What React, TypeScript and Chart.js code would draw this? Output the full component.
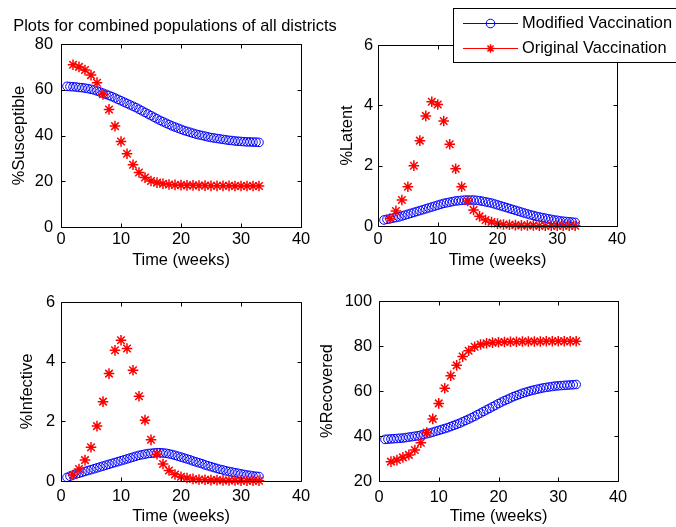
import { useEffect, useRef } from "react";
import { Chart, registerables } from "chart.js";

Chart.register(...registerables);

// ---------------------------------------------------------------------------
// Data (percent of the combined population, by week)
// ---------------------------------------------------------------------------

const modifiedWeeks = [
  1, 1.5, 2, 2.5, 3, 3.5, 4, 4.5, 5, 5.5, 6, 6.5, 7, 7.5, 8, 8.5, 9, 9.5, 10, 10.5,
  11, 11.5, 12, 12.5, 13, 13.5, 14, 14.5, 15, 15.5, 16, 16.5, 17, 17.5, 18, 18.5, 19,
  19.5, 20, 20.5, 21, 21.5, 22, 22.5, 23, 23.5, 24, 24.5, 25, 25.5, 26, 26.5, 27, 27.5,
  28, 28.5, 29, 29.5, 30, 30.5, 31, 31.5, 32, 32.5, 33,
];

const originalWeeks = [
  2, 3, 4, 5, 6, 7, 8, 9, 10, 11, 12, 13, 14, 15, 16, 17, 18, 19, 20, 21, 22, 23, 24,
  25, 26, 27, 28, 29, 30, 31, 32, 33,
];

const modifiedSusceptible = [
  61.5, 61.4, 61.3, 61.2, 61.0, 60.9, 60.7, 60.5, 60.2, 59.9, 59.5, 59.0, 58.5, 58.0,
  57.5, 57.0, 56.4, 55.8, 55.2, 54.6, 54.0, 53.4, 52.8, 52.2, 51.5, 50.8, 50.1, 49.4,
  48.7, 48.0, 47.3, 46.6, 46.0, 45.4, 44.8, 44.2, 43.7, 43.2, 42.7, 42.2, 41.8, 41.4,
  41.0, 40.6, 40.3, 40.0, 39.7, 39.4, 39.1, 38.9, 38.7, 38.5, 38.3, 38.1, 37.9, 37.8,
  37.6, 37.5, 37.4, 37.3, 37.2, 37.2, 37.1, 37.1, 37.0,
];
const originalSusceptible = [
  70.9, 70.0, 68.6, 66.4, 63.1, 58.0, 51.4, 44.1, 37.4, 32.0, 27.2, 23.8, 21.6, 20.1,
  19.4, 18.9, 18.6, 18.4, 18.3, 18.2, 18.2, 18.1, 18.1, 18.0, 18.0, 18.0, 18.0, 17.9,
  17.9, 17.9, 17.9, 17.9,
];

const modifiedLatent = [
  0.2, 0.22, 0.24, 0.26, 0.28, 0.3, 0.33, 0.36, 0.39, 0.42, 0.45, 0.48, 0.51, 0.54,
  0.57, 0.6, 0.63, 0.66, 0.69, 0.72, 0.75, 0.77, 0.79, 0.81, 0.83, 0.84, 0.85, 0.86,
  0.86, 0.86, 0.86, 0.85, 0.84, 0.82, 0.8, 0.78, 0.76, 0.73, 0.7, 0.67, 0.64, 0.61,
  0.58, 0.55, 0.52, 0.49, 0.46, 0.43, 0.4, 0.37, 0.35, 0.32, 0.3, 0.28, 0.26, 0.24,
  0.22, 0.2, 0.19, 0.17, 0.16, 0.15, 0.14, 0.13, 0.12,
];
const originalLatent = [
  0.25, 0.5, 0.86, 1.3, 2.0, 2.83, 3.65, 4.12, 4.03, 3.48, 2.71, 1.9, 1.3, 0.83, 0.53,
  0.32, 0.2, 0.13, 0.08, 0.05, 0.04, 0.03, 0.02, 0.02, 0.02, 0.01, 0.01, 0.01, 0.01,
  0.01, 0.01, 0.01,
];

const modifiedInfective = [
  0.12, 0.16, 0.2, 0.23, 0.26, 0.29, 0.32, 0.35, 0.38, 0.41, 0.44, 0.47, 0.5, 0.53,
  0.56, 0.59, 0.62, 0.65, 0.68, 0.71, 0.74, 0.77, 0.8, 0.83, 0.86, 0.88, 0.9, 0.92,
  0.93, 0.94, 0.95, 0.95, 0.94, 0.93, 0.91, 0.89, 0.86, 0.83, 0.8, 0.77, 0.74, 0.71,
  0.67, 0.64, 0.61, 0.58, 0.54, 0.51, 0.48, 0.45, 0.42, 0.39, 0.37, 0.34, 0.32, 0.3,
  0.28, 0.26, 0.24, 0.22, 0.2, 0.19, 0.17, 0.16, 0.15,
];
const originalInfective = [
  0.2, 0.4, 0.7, 1.13, 1.84, 2.66, 3.6, 4.38, 4.72, 4.44, 3.71, 2.84, 2.04, 1.38, 0.9,
  0.57, 0.35, 0.22, 0.14, 0.1, 0.07, 0.05, 0.04, 0.03, 0.03, 0.02, 0.02, 0.02, 0.01,
  0.01, 0.01, 0.01,
];

const modifiedRecovered = [
  38.5, 38.6, 38.7, 38.8, 38.9, 39.0, 39.1, 39.3, 39.5, 39.7, 39.9, 40.1, 40.4, 40.7,
  41.0, 41.3, 41.7, 42.1, 42.5, 42.9, 43.3, 43.7, 44.2, 44.7, 45.2, 45.7, 46.3, 46.9,
  47.5, 48.1, 48.8, 49.5, 50.2, 50.9, 51.6, 52.3, 53.0, 53.7, 54.4, 55.1, 55.7, 56.3,
  56.9, 57.5, 58.0, 58.5, 59.0, 59.4, 59.8, 60.2, 60.5, 60.8, 61.1, 61.4, 61.6, 61.8,
  62.0, 62.2, 62.3, 62.4, 62.5, 62.6, 62.7, 62.8, 62.9,
];
const originalRecovered = [
  28.6, 29.3, 30.5, 31.6, 33.8, 37.0, 41.5, 47.6, 54.5, 61.2, 66.8, 71.4, 75.3, 77.9,
  79.7, 80.7, 81.2, 81.5, 81.7, 81.8, 81.9, 81.9, 82.0, 82.0, 82.0, 82.0, 82.1, 82.1,
  82.1, 82.1, 82.1, 82.1,
];

const timeTicks = [0, 10, 20, 30, 40];
const susceptibleTicks = [0, 20, 40, 60, 80];
const latentTicks = [0, 2, 4, 6];
const infectiveTicks = [0, 2, 4, 6];
const recoveredTicks = [20, 40, 60, 80, 100];

const seriesNames = ["Modified Vaccination", "Original Vaccination"];
const figureTitle = "Plots for combined populations of all districts";
const timeLabel = "Time (weeks)";

// ---------------------------------------------------------------------------
// Look and layout
// ---------------------------------------------------------------------------

const W = 676;
const H = 527;
const FAMILY = "'Liberation Sans', Arial, Helvetica, sans-serif";
const FONT_SIZE = 16.4;
const LINE_H = FONT_SIZE * 1.2;
const BLUE = "#0000ff";
const RED = "#ff0000";

type Box = { l: number; t: number; r: number; b: number };

type Panel = {
  yLabel: string;
  yTicks: number[];
  modified: number[];
  original: number[];
  plot: Box;
  yTitleX: number;
  xTitleY: number;
  yTickPad: number;
  xTickPad: number;
  title?: boolean;
  legend?: boolean;
};

const panels: Panel[] = [
  {
    yLabel: "%Susceptible",
    yTicks: susceptibleTicks,
    modified: modifiedSusceptible,
    original: originalSusceptible,
    plot: { l: 61, t: 44, r: 301, b: 227 },
    yTitleX: 19,
    xTitleY: 260.5,
    yTickPad: 8,
    xTickPad: 2.4,
    title: true,
  },
  {
    yLabel: "%Infective",
    yTicks: infectiveTicks,
    modified: modifiedInfective,
    original: originalInfective,
    plot: { l: 61, t: 302, r: 301, b: 481 },
    yTitleX: 27,
    xTitleY: 516,
    yTickPad: 6,
    xTickPad: 5.4,
  },
  {
    yLabel: "%Recovered",
    yTicks: recoveredTicks,
    modified: modifiedRecovered,
    original: originalRecovered,
    plot: { l: 379, t: 301, r: 618, b: 481 },
    yTitleX: 327,
    xTitleY: 516,
    yTickPad: 7,
    xTickPad: 6.4,
  },
  {
    yLabel: "%Latent",
    yTicks: latentTicks,
    modified: modifiedLatent,
    original: originalLatent,
    plot: { l: 378, t: 45, r: 617, b: 226 },
    yTitleX: 347,
    xTitleY: 260.5,
    yTickPad: 5,
    xTickPad: 3.4,
    legend: true,
  },
];

const toPoints = (xs: number[], ys: number[]) => xs.map((x, i) => ({ x, y: ys[i] }));

function drawMarker(ctx: CanvasRenderingContext2D, style: string, x: number, y: number, r: number) {
  ctx.beginPath();
  if (style === "circle") {
    ctx.arc(x, y, r, 0, Math.PI * 2);
  } else {
    const d = r * Math.SQRT1_2;
    ctx.moveTo(x - r, y);
    ctx.lineTo(x + r, y);
    ctx.moveTo(x, y - r);
    ctx.lineTo(x, y + r);
    ctx.moveTo(x - d, y - d);
    ctx.lineTo(x + d, y + d);
    ctx.moveTo(x - d, y + d);
    ctx.lineTo(x + d, y - d);
  }
  ctx.stroke();
}

// Boxed axes with inward tick marks on all four sides, plus the figure
// title and the series legend where a panel asks for them.
const axesBox = {
  id: "axesBox",
  afterDraw(chart: any, _args: any, opts: any) {
    const { ctx, chartArea: a, scales } = chart;
    const L = Math.round(a.left) + 0.5;
    const R = Math.round(a.right) + 0.5;
    const T = Math.round(a.top) + 0.5;
    const B = Math.round(a.bottom) + 0.5;
    const len = 4;
    ctx.save();
    ctx.strokeStyle = "#000";
    ctx.lineWidth = 1;
    ctx.beginPath();
    ctx.rect(L, T, R - L, B - T);
    for (const t of scales.x.ticks) {
      const px = Math.round(scales.x.getPixelForValue(t.value)) + 0.5;
      ctx.moveTo(px, B);
      ctx.lineTo(px, B - len);
      ctx.moveTo(px, T);
      ctx.lineTo(px, T + len);
    }
    for (const t of scales.y.ticks) {
      const py = Math.round(scales.y.getPixelForValue(t.value)) + 0.5;
      ctx.moveTo(L, py);
      ctx.lineTo(L + len, py);
      ctx.moveTo(R, py);
      ctx.lineTo(R - len, py);
    }
    ctx.stroke();

    ctx.font = `${FONT_SIZE}px ${FAMILY}`;
    ctx.fillStyle = "#000";
    ctx.textBaseline = "middle";

    if (opts.title) {
      ctx.textAlign = "center";
      ctx.fillText(opts.title, 175, 26);
    }

    if (opts.legend) {
      const lg = { l: 453.5, t: 8.5, r: 680, b: 62.5 };
      ctx.fillStyle = "#fff";
      ctx.fillRect(lg.l, lg.t, lg.r - lg.l, lg.b - lg.t);
      ctx.strokeStyle = "#000";
      ctx.strokeRect(lg.l, lg.t, lg.r - lg.l, lg.b - lg.t);
      const rows = [23, 48];
      chart.data.datasets.forEach((ds: any, i: number) => {
        const y = rows[i] + 0.5;
        ctx.strokeStyle = ds.borderColor;
        ctx.lineWidth = 1;
        ctx.beginPath();
        ctx.moveTo(463, y);
        ctx.lineTo(518, y);
        ctx.stroke();
        ctx.lineWidth = ds.borderWidth;
        drawMarker(ctx, ds.pointStyle, 490.5, y, 4.3);
        ctx.fillStyle = "#000";
        ctx.textAlign = "left";
        ctx.fillText(ds.label, 522, rows[i]);
      });
    }
    ctx.restore();
  },
};

function PanelChart({ panel }: { panel: Panel }) {
  const ref = useRef<HTMLCanvasElement | null>(null);

  useEffect(() => {
    if (!ref.current) return;
    const p = panel;
    const padLeft = p.yTitleX - LINE_H / 2;
    const padBottom = H - (p.xTitleY + LINE_H / 2);
    const font = { family: FAMILY, size: FONT_SIZE };

    const chart = new Chart(ref.current, {
      type: "scatter",
      data: {
        datasets: [
          {
            label: seriesNames[0],
            data: toPoints(modifiedWeeks, p.modified),
            pointStyle: "circle",
            radius: 4.3,
            borderColor: BLUE,
            backgroundColor: "rgba(0,0,0,0)",
            borderWidth: 1,
            showLine: false,
            clip: false,
            order: 1,
          },
          {
            label: seriesNames[1],
            data: toPoints(originalWeeks, p.original),
            pointStyle: "star",
            radius: 5.3,
            borderColor: RED,
            backgroundColor: RED,
            borderWidth: 1.5,
            showLine: false,
            clip: false,
            order: 0,
          },
        ],
      },
      options: {
        animation: false,
        responsive: false,
        devicePixelRatio: 1,
        events: [],
        layout: {
          padding: { left: padLeft, right: W - p.plot.r, top: p.plot.t, bottom: padBottom },
        },
        plugins: {
          legend: { display: false },
          tooltip: { enabled: false },
          axesBox: { title: p.title ? figureTitle : null, legend: !!p.legend },
        } as any,
        scales: {
          x: {
            type: "linear",
            position: "bottom",
            min: timeTicks[0],
            max: timeTicks[timeTicks.length - 1],
            afterBuildTicks: (s: any) => {
              s.ticks = timeTicks.map((v) => ({ value: v }));
            },
            ticks: {
              color: "#000",
              font,
              padding: p.xTickPad,
              maxRotation: 0,
              autoSkip: false,
              callback: (v: any) => String(v),
            },
            grid: { display: false, drawTicks: false },
            border: { display: false },
            title: { display: true, text: timeLabel, color: "#000", font, padding: 0 },
            afterFit: (s: any) => {
              s.height = p.xTitleY + LINE_H / 2 - p.plot.b;
            },
          },
          y: {
            type: "linear",
            min: p.yTicks[0],
            max: p.yTicks[p.yTicks.length - 1],
            afterBuildTicks: (s: any) => {
              s.ticks = p.yTicks.map((v) => ({ value: v }));
            },
            ticks: {
              color: "#000",
              font,
              padding: p.yTickPad,
              autoSkip: false,
              callback: (v: any) => String(v),
            },
            grid: { display: false, drawTicks: false },
            border: { display: false },
            title: { display: true, text: p.yLabel, color: "#000", font, padding: 0 },
            afterFit: (s: any) => {
              s.width = p.plot.l - padLeft;
            },
          },
        },
      } as any,
      plugins: [axesBox],
    });

    return () => chart.destroy();
  }, [panel]);

  return (
    <canvas
      ref={ref}
      width={W}
      height={H}
      style={{ position: "absolute", left: 0, top: 0, width: W, height: H }}
    />
  );
}

export default function App() {
  return (
    <div
      style={{
        position: "fixed",
        left: 0,
        top: 0,
        width: W,
        height: H,
        background: "#fff",
        overflow: "hidden",
      }}
    >
      {panels.map((p) => (
        <PanelChart key={p.yLabel} panel={p} />
      ))}
    </div>
  );
}
